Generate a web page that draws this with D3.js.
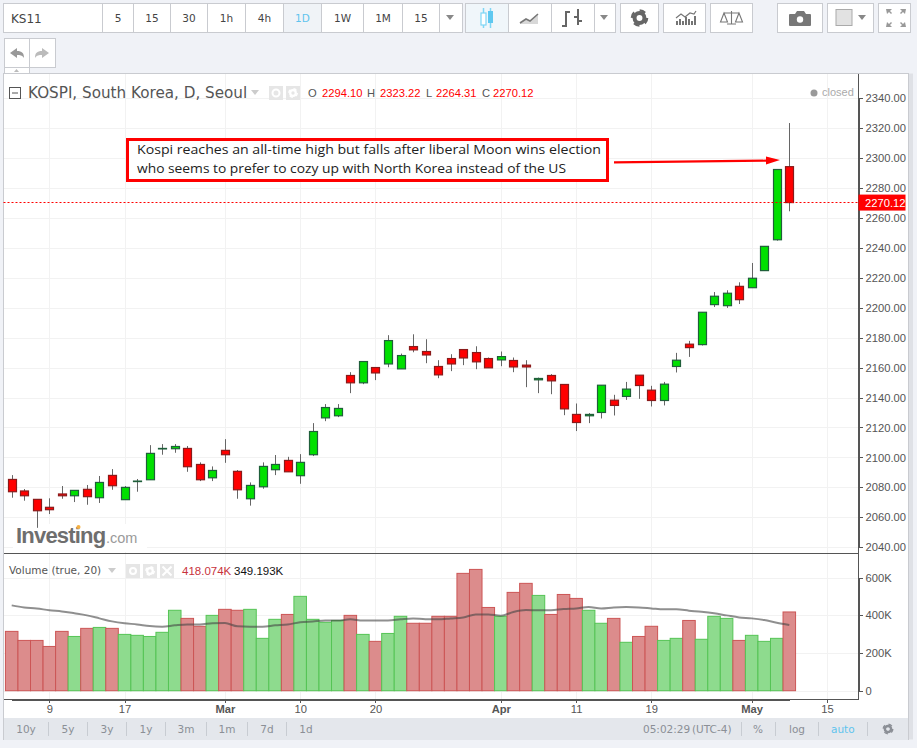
<!DOCTYPE html>
<html>
<head>
<meta charset="UTF-8">
<title>KOSPI, South Korea, D, Seoul</title>
<script src="https://d3js.org/d3.v7.min.js"></script>
<style>
    html, body { margin: 0; padding: 0; background: #f0f2f7; overflow: hidden; }
    svg { display: block; }
    text { font-family: "Liberation Sans", Arial, sans-serif; }
    .ui { font-family: "DejaVu Sans", sans-serif; }
    .note { font-family: "Open Sans", sans-serif; }
    .axis path { stroke: #555; shape-rendering: crispEdges; }
    .axis line { stroke: #555; shape-rendering: crispEdges; }
    .axis text { fill: #555; font-size: 11.2px; }
    .grid line { stroke: #f2f2f2; shape-rendering: crispEdges; }
    .btn { fill: #fff; stroke: #c9cbd0; shape-rendering: crispEdges; }
</style>
</head>
<body>
<svg width="917" height="748"></svg>
<script>
// daily OHLC
var opens = [2085.3,2077.6,2072,2066.7,2075.6,2074.4,2078.7,2073.1,2088,2071.8,2084,2085.1,2105.8,2105.8,2106,2095.3,2086.4,2104.7,2090.7,2072.4,2080.4,2091.8,2098,2087.8,2101.8,2126.4,2127.8,2154.7,2149.8,2160,2162.4,2159.1,2174,2170.7,2160.7,2166,2172,2170,2166,2165.1,2164.7,2161.6,2151.8,2154.7,2148.7,2128.7,2127.8,2130,2138.2,2140.7,2154.9,2144.9,2138,2160.7,2175.6,2175.3,2202,2201.3,2214.2,2213.3,2224.7,2245.3,2294.1];
var highs = [2088.2,2078.9,2072,2072.7,2080.9,2078.2,2081.6,2087.6,2092.2,2080.9,2085.6,2108.2,2108.9,2108.9,2107.6,2096.7,2094,2112.2,2091.6,2083.3,2096.7,2101.6,2100.4,2102.2,2122.9,2135.6,2135.6,2156.9,2164,2160,2181.6,2169.3,2182.2,2178.9,2164.9,2168.9,2172,2174.2,2166.7,2170.7,2166.7,2164.9,2153.3,2155.6,2148.7,2136,2129.6,2148.2,2141.8,2150.4,2154.9,2147.8,2150.4,2169.8,2177.8,2196.9,2210.4,2211.6,2216.9,2229.8,2240.9,2292.2,2323.22];
var lows = [2073.1,2071.1,2053,2062.2,2072.4,2070.2,2068.4,2069.6,2078.4,2071.8,2077.1,2085.1,2101.8,2103.1,2090.4,2084.2,2084.2,2096.4,2072.4,2067.8,2079.1,2088.2,2090.4,2082.4,2100.9,2124.2,2126.9,2142.9,2148.9,2151.6,2160.2,2159.1,2170.2,2162.9,2152.9,2157.6,2161.6,2158.9,2159.8,2160.9,2156.9,2146.9,2142.9,2142.2,2128.2,2117.6,2122.9,2126,2128,2138.4,2139.1,2134,2134.7,2156.7,2167.1,2174.7,2200.4,2199.8,2202.4,2213.3,2224.7,2244.7,2264.31];
var closes = [2077.1,2074.4,2064.4,2065.1,2074.4,2078,2073.8,2083.3,2081.1,2080,2084.2,2102.7,2106,2107.3,2093.8,2085.1,2091.3,2101.8,2078.4,2081.3,2094,2095.3,2090.4,2096.7,2117.3,2133.3,2132.7,2149.8,2164,2156.4,2178,2168,2171.8,2168.4,2155.1,2162.4,2166.4,2163.8,2159.8,2167.3,2160.4,2160.4,2152.7,2151.1,2132.4,2123.3,2128.7,2148.2,2134.7,2145.6,2148,2138,2148.9,2164.9,2173.3,2196.9,2207.6,2209.6,2205.3,2219.6,2240.9,2292.2,2270.12];
// volume in thousands and its 20 day average
var volumes = [315,267,267,235,315,288,331,336,331,299,294,288,310,427,384,342,400,432,427,432,278,379,405,501,379,363,373,400,299,262,304,395,358,358,395,395,623,644,442,395,522,570,506,405,511,490,427,358,384,257,288,342,267,278,373,273,395,384,267,294,262,278,418.074];
var volumeMa = [453,442,437,427,421,411,400,384,368,358,352,343,340,347,352,352,358,359,342,340,340,347,352,363,368,373,373,379,373,373,373,379,384,379,379,384,389,405,405,398,418,428,427,427,434,437,444,437,442,444,442,437,432,432,425,419,411,400,389,384,375,361,349.193];
// tick labels sit at bar indexes
var timeTickIndex = [3,9,17,23,29,39,45,51,59,65];
var timeTickLabels = ['9','17','Mar','10','20','Apr','11','19','May','15'];
var priceTicks = d3.range(2040, 2341, 20);
var volumeTicks = [0,200,400,600];

var svg = d3.select('svg');

var x = d3.scaleLinear().domain([0, 62]).range([11.7, 789.3]),
    y = d3.scaleLinear().domain([2040, 2340]).range([547.3, 97.9]),
    v = d3.scaleLinear().domain([0, 600]).range([690.7, 577.7]);

var axisX = 858.5, frameL = 3.5, frameR = 908.5, frameT = 73.5, paneY = 553.5, bottomY = 699.5;
var isMonth = function(s) { return isNaN(+s); };

// ---- toolbar ----
function button(x0, x1, y0, y1) {
    return svg.append('rect').attr('class', 'btn')
        .attr('x', x0).attr('y', y0).attr('width', x1 - x0).attr('height', y1 - y0);
}
function caret(cx, cy, col) {
    svg.append('path').attr('d', 'M' + (cx - 4) + ',' + (cy - 2) + 'h8l-4,5z').attr('fill', col || '#888');
}
function gear(cx, cy, r, col) {
    var g = svg.append('g').attr('transform', 'translate(' + cx + ',' + cy + ')');
    g.append('circle').attr('r', r * 0.62).attr('fill', 'none').attr('stroke', col).attr('stroke-width', r * 0.5);
    g.append('circle').attr('r', r * 0.95).attr('fill', 'none').attr('stroke', col).attr('stroke-width', r * 0.3)
        .attr('stroke-dasharray', (r * 0.75) + ' ' + (r * 0.74));
}

button(3.5, 102.5, 3.5, 32.5);
svg.append('text').attr('class', 'ui').attr('x', 11).attr('y', 23).attr('font-size', 12).attr('fill', '#444').text('KS11');
var intervals = ['5','15','30','1h','4h','1D','1W','1M','15'];
var edges = [102.5,133.5,170.5,207.5,245.5,283.5,321.5,363.5,402.5,439.5];
intervals.forEach(function(t, i) {
    button(edges[i], edges[i + 1], 3.5, 32.5).style('fill', t === '1D' ? '#f0f3f7' : '#fff');
    svg.append('text').attr('class', 'ui')
        .attr('x', (edges[i] + edges[i + 1]) / 2).attr('y', 22).attr('text-anchor', 'middle')
        .attr('font-size', 10.5).attr('fill', t === '1D' ? '#5fc4ee' : '#444').text(t);
});
button(439.5, 462.5, 3.5, 32.5);
caret(450, 17);

button(465.5, 508.5, 3.5, 32.5).style('fill', '#f0f6fa');
button(508.5, 551.5, 3.5, 32.5);
button(551.5, 594.5, 3.5, 32.5);
button(594.5, 615.5, 3.5, 32.5);
button(620.5, 658.5, 3.5, 32.5);
button(663.5, 705.5, 3.5, 32.5);
button(710.5, 752.5, 3.5, 32.5);
button(777.5, 822.5, 3.5, 32.5);
button(827.5, 873.5, 3.5, 32.5);
button(878.5, 910.5, 3.5, 32.5);

// candle icon
svg.append('path').attr('d', 'M483.5,8v20M490.5,8v20').attr('stroke', '#7fd6f5').attr('stroke-width', 1.5);
svg.append('rect').attr('x', 481).attr('y', 13).attr('width', 5).attr('height', 12).attr('fill', '#fff').attr('stroke', '#7fd6f5').attr('stroke-width', 1.2);
svg.append('rect').attr('x', 488).attr('y', 11).attr('width', 5).attr('height', 12).attr('fill', '#5fc8f0');
// area icon
svg.append('path').attr('d', 'M520,23l6,-4 4,2 8,-7v10h-18z').attr('fill', '#d8d8d8');
svg.append('path').attr('d', 'M520,23l6,-4 4,2 8,-7').attr('fill', 'none').attr('stroke', '#777').attr('stroke-width', 1.6);
// bars icon
svg.append('path').attr('d', 'M566,11v16M562,26h4M566,12h4M578,9v16M574,17h4M578,21h4').attr('fill', 'none').attr('stroke', '#666').attr('stroke-width', 2);
caret(604, 17);
gear(639.5, 18, 8, '#666');
// indicators icon
svg.append('path').attr('d', 'M677,25v-4M680,25v-6M683,25v-4M686,25v-8M689,25v-6M692,25v-4M695,25v-9')
    .attr('stroke', '#666').attr('stroke-width', 1.8);
svg.append('path').attr('d', 'M676,18l5,-4 4,3 5,-4 4,1 2,-3').attr('fill', 'none').attr('stroke', '#777').attr('stroke-width', 1.2);
// scales icon
svg.append('path').attr('d', 'M724,13h15M731.5,11v13M727,24h9M724,13l-3.5,9h7zM739,13l-3.5,9h7z').attr('fill', 'none').attr('stroke', '#777').attr('stroke-width', 1.1);
// camera icon
svg.append('path').attr('d', 'M790,14h5l2,-3h7l2,3h4a1,1 0 0 1 1,1v10a1,1 0 0 1 -1,1h-20a1,1 0 0 1 -1,-1v-10a1,1 0 0 1 1,-1z').attr('fill', '#777');
svg.append('circle').attr('cx', 800).attr('cy', 19.5).attr('r', 3.2).attr('fill', '#fff');
// colour swatch
svg.append('rect').attr('x', 836).attr('y', 9.5).attr('width', 16).attr('height', 16).attr('fill', '#e2e2e2').attr('stroke', '#aaa');
caret(862, 17);
// fullscreen icon
svg.append('path').attr('d', 'M886,9h6l-2,2 2,2 -1,1 -2,-2 -2,2zM906,9h-6l2,2 -2,2 1,1 2,-2 2,2zM886,27h6l-2,-2 2,-2 -1,-1 -2,2 -2,-2zM906,27h-6l2,-2 -2,-2 1,-1 2,2 2,-2z').attr('fill', '#999');

// undo / redo
button(4.5, 29.5, 38.5, 67.5);
button(29.5, 55.5, 38.5, 67.5);
svg.append('path').attr('d', 'M10,53l7,-5v3c5,0 7,2 7,7c-2,-3 -4,-3 -7,-3v3z').attr('fill', '#999');
svg.append('path').attr('d', 'M49,53l-7,-5v3c-5,0 -7,2 -7,7c2,-3 4,-3 7,-3v3z').attr('fill', '#bbb');
button(4.5, 29.5, 67.5, 73.5);
svg.append('path').attr('d', 'M14,72l2.5,-3 2.5,3z').attr('fill', '#bbb');

// ---- chart frame ----
svg.append('rect').attr('x', frameL).attr('y', frameT).attr('width', frameR - frameL).attr('height', 666)
    .attr('fill', '#fff').attr('stroke', '#c9cbd0');
svg.append('rect').attr('x', frameR + 0.5).attr('y', frameT).attr('width', 4).attr('height', 666).attr('fill', '#dfe1e6');

// grid
var grid = svg.append('g').attr('class', 'grid');
grid.selectAll('.gx').data(timeTickIndex).enter().append('line')
    .attr('x1', function(d) { return Math.round(x(d)) + 0.5; })
    .attr('x2', function(d) { return Math.round(x(d)) + 0.5; })
    .attr('y1', frameT).attr('y2', bottomY);
grid.selectAll('.gy').data(priceTicks).enter().append('line')
    .attr('x1', frameL).attr('x2', axisX)
    .attr('y1', function(d) { return Math.round(y(d)) + 0.5; })
    .attr('y2', function(d) { return Math.round(y(d)) + 0.5; });
grid.selectAll('.gv').data(volumeTicks).enter().append('line')
    .attr('x1', frameL).attr('x2', axisX)
    .attr('y1', function(d) { return Math.round(v(d)) + 0.5; })
    .attr('y2', function(d) { return Math.round(v(d)) + 0.5; });

// watermark
svg.append('rect').attr('x', 13).attr('y', 524).attr('width', 134).attr('height', 28).attr('fill', '#fff');
svg.append('text').attr('x', 16).attr('y', 543).attr('font-size', 22).attr('font-weight', 'bold')
    .attr('letter-spacing', -0.8).attr('fill', '#6e6e6e').text('Investing');
svg.append('text').attr('x', 106).attr('y', 543).attr('font-size', 14.5).attr('fill', '#9a9a9a').text('.com');
svg.append('circle').attr('cx', 78.5).attr('cy', 527).attr('r', 2).attr('fill', '#f5b042');

// candles
var barW = 8;
var candle = svg.append('g').selectAll('g').data(d3.range(opens.length)).enter().append('g');
candle.append('line')
    .attr('x1', function(i) { return Math.round(x(i)) + 0.5; })
    .attr('x2', function(i) { return Math.round(x(i)) + 0.5; })
    .attr('y1', function(i) { return y(highs[i]); })
    .attr('y2', function(i) { return y(lows[i]); })
    .attr('stroke', '#666').attr('stroke-width', 1);
candle.append('rect')
    .attr('x', function(i) { return Math.round(x(i)) + 0.5 - barW / 2; })
    .attr('width', barW)
    .attr('y', function(i) { return Math.min(y(opens[i]), y(closes[i])); })
    .attr('height', function(i) { return Math.max(0.5, Math.abs(y(opens[i]) - y(closes[i]))); })
    .attr('fill', function(i) { return closes[i] >= opens[i] ? '#00e000' : '#ff0000'; })
    .attr('stroke', function(i) { return closes[i] >= opens[i] ? '#1f5f3a' : '#8a1a1a'; })
    .attr('stroke-width', 1.2);

// volume
var step = (x(62) - x(0)) / 62;
svg.append('g').selectAll('rect').data(volumes).enter().append('rect')
    .attr('x', function(d, i) { return x(i) - step / 2; })
    .attr('width', step)
    .attr('y', function(d) { return v(d); })
    .attr('height', function(d) { return v(0) - v(d); })
    .attr('fill', function(d, i) { return closes[i] >= opens[i] ? '#8edb8e' : '#dc8c8c'; })
    .attr('stroke', function(d, i) { return closes[i] >= opens[i] ? '#55c455' : '#cc5555'; })
    .attr('stroke-width', 1);

var maLine = d3.line().curve(d3.curveMonotoneX)
    .x(function(d, i) { return x(i); })
    .y(function(d) { return v(d); });
svg.append('path').datum(volumeMa).attr('d', maLine)
    .attr('fill', 'none').attr('stroke', '#444').attr('stroke-opacity', 0.6).attr('stroke-width', 2);

// axes
svg.append('line').attr('x1', frameL).attr('x2', axisX).attr('y1', paneY).attr('y2', paneY)
    .attr('stroke', '#555').attr('shape-rendering', 'crispEdges');

svg.append('g').attr('class', 'axis').attr('transform', 'translate(' + axisX + ',0)')
    .call(d3.axisRight(y).tickValues(priceTicks).tickSize(4).tickPadding(3).tickSizeOuter(0).tickFormat(d3.format('.2f')));
svg.append('g').attr('class', 'axis').attr('transform', 'translate(' + axisX + ',0)')
    .call(d3.axisRight(v).tickValues(volumeTicks).tickSize(4).tickPadding(3).tickSizeOuter(0)
        .tickFormat(function(d) { return d === 0 ? '0' : d + 'K'; }));
svg.append('line').attr('x1', axisX).attr('x2', axisX).attr('y1', frameT).attr('y2', bottomY)
    .attr('stroke', '#555').attr('shape-rendering', 'crispEdges');

var axisTime = svg.append('g').attr('class', 'axis').attr('transform', 'translate(0,' + bottomY + ')')
    .call(d3.axisBottom(x).tickValues(timeTickIndex).tickSize(3).tickPadding(3).tickSizeOuter(0)
        .tickFormat(function(d, i) { return timeTickLabels[i]; }));
axisTime.selectAll('text').style('font-weight', function(d, i) { return isMonth(timeTickLabels[i]) ? 'bold' : 'normal'; });
svg.append('line').attr('x1', frameL).attr('x2', axisX).attr('y1', bottomY).attr('y2', bottomY)
    .attr('stroke', '#555').attr('shape-rendering', 'crispEdges');

// last price line and label
var lastClose = closes[closes.length - 1];
svg.append('line').attr('x1', frameL).attr('x2', axisX)
    .attr('y1', Math.floor(y(lastClose)) + 0.5).attr('y2', Math.floor(y(lastClose)) + 0.5)
    .style('stroke', '#ff0000').attr('stroke-width', 1).attr('stroke-dasharray', '2 2');
svg.append('rect').attr('x', axisX).attr('y', y(lastClose) - 8).attr('width', 47).attr('height', 16).attr('fill', '#f00');
svg.append('text').attr('x', 865).attr('y', y(lastClose) + 4).attr('font-size', 11.2).attr('fill', '#fff').text(d3.format('.2f')(lastClose));

// ---- legends ----
svg.append('rect').attr('x', 9.5).attr('y', 87.5).attr('width', 11).attr('height', 11).attr('fill', '#fff').attr('stroke', '#555');
svg.append('path').attr('d', 'M12,93h6').attr('stroke', '#555');
svg.append('text').attr('class', 'ui').attr('x', 28).attr('y', 98).attr('font-size', 15.2).attr('fill', '#555').text('KOSPI, South Korea, D, Seoul');
caret(255, 92, '#ccc');

function miniIcon(cx, cy) {
    svg.append('rect').attr('x', cx - 7).attr('y', cy - 7).attr('width', 14).attr('height', 14).attr('fill', '#e6e6e6');
}
miniIcon(276, 93);
svg.append('circle').attr('cx', 276).attr('cy', 93).attr('r', 3.5).attr('fill', 'none').attr('stroke', '#fff').attr('stroke-width', 2);
miniIcon(293, 93);
gear(293, 93, 4.5, '#fff');

var ohlcLabels = [['O', 308, opens], ['H', 367, highs], ['L', 426, lows], ['C', 482, closes]];
var ohlcX = [322, 380, 436, 493];
ohlcLabels.forEach(function(d, i) {
    svg.append('text').attr('x', d[1]).attr('y', 97).attr('font-size', 11.2).attr('fill', '#555').text(d[0]);
    svg.append('text').attr('x', ohlcX[i]).attr('y', 97).attr('font-size', 11.2).attr('fill', '#f00')
        .text(d3.format('.2f')(d[2][d[2].length - 1]));
});

svg.append('circle').attr('cx', 814).attr('cy', 93).attr('r', 3.5).attr('fill', '#999');
svg.append('text').attr('x', 822).attr('y', 96).attr('font-size', 11).attr('fill', '#aaa').text('closed');

svg.append('text').attr('class', 'ui').attr('x', 9).attr('y', 574).attr('font-size', 10.5).attr('fill', '#555').text('Volume (true, 20)');
caret(112, 570, '#ccc');
miniIcon(133, 571);
svg.append('circle').attr('cx', 133).attr('cy', 571).attr('r', 3).attr('fill', 'none').attr('stroke', '#fff').attr('stroke-width', 2);
miniIcon(150, 571);
gear(150, 571, 4.5, '#fff');
miniIcon(167, 571);
svg.append('path').attr('d', 'M162.5,566.5l9,9M171.5,566.5l-9,9').attr('stroke', '#fff').attr('stroke-width', 2);
svg.append('text').attr('x', 182).attr('y', 575).attr('font-size', 11.5).attr('fill', '#c8323c')
    .text(d3.format('.3f')(volumes[volumes.length - 1]) + 'K');
svg.append('text').attr('x', 234).attr('y', 575).attr('font-size', 11.5).attr('fill', '#111')
    .text(d3.format('.3f')(volumeMa[volumeMa.length - 1]) + 'K');

// ---- annotation ----
svg.append('rect').attr('x', 127.5).attr('y', 139.5).attr('width', 480).attr('height', 41)
    .attr('fill', '#fff').attr('stroke', '#f00').attr('stroke-width', 3);
svg.append('text').attr('class', 'note').attr('x', 137).attr('y', 154).attr('font-size', 13)
    .attr('textLength', 464).attr('lengthAdjust', 'spacingAndGlyphs')
    .attr('fill', '#222').text('Kospi reaches an all-time high but falls after liberal Moon wins election');
svg.append('text').attr('class', 'note').attr('x', 137).attr('y', 173).attr('font-size', 13)
    .attr('textLength', 429).attr('lengthAdjust', 'spacingAndGlyphs')
    .attr('fill', '#222').text('who seems to prefer to cozy up with North Korea instead of the US');
svg.append('path').attr('d', 'M614,161.2L766,159.6V156.5L780,160L766,164.5V161.8L614,163.4Z').attr('fill', '#f00');

// ---- bottom bar ----
svg.append('rect').attr('x', 4).attr('y', 718).attr('width', 904).attr('height', 22).attr('fill', '#e4e7ec');
var ranges = ['10y','5y','3y','1y','3m','1m','7d','1d'];
var rangeX = [26,68,107,146,186,227,267,306];
var seps = [48,87,126,165,206,247,286,741.5,775.5,818.5,867.5];
ranges.forEach(function(t, i) {
    svg.append('text').attr('class', 'ui').attr('x', rangeX[i]).attr('y', 733).attr('text-anchor', 'middle')
        .attr('font-size', 10.5).attr('fill', '#8b8f96').text(t);
});
seps.forEach(function(s) {
    svg.append('line').attr('x1', s).attr('x2', s).attr('y1', 722).attr('y2', 736)
        .attr('stroke', '#c8ccd2').attr('shape-rendering', 'crispEdges');
});
[['05:02:29', 643, '#8b8f96'], ['(UTC-4)', 692, '#8b8f96'], ['%', 753, '#8b8f96'], ['log', 789, '#8b8f96'], ['auto', 831, '#5fc4ee']].forEach(function(d) {
    svg.append('text').attr('class', 'ui').attr('x', d[1]).attr('y', 733).attr('font-size', 10.5).attr('fill', d[2]).text(d[0]);
});
gear(888, 729, 5, '#8b8f96');
</script>
</body>
</html>
